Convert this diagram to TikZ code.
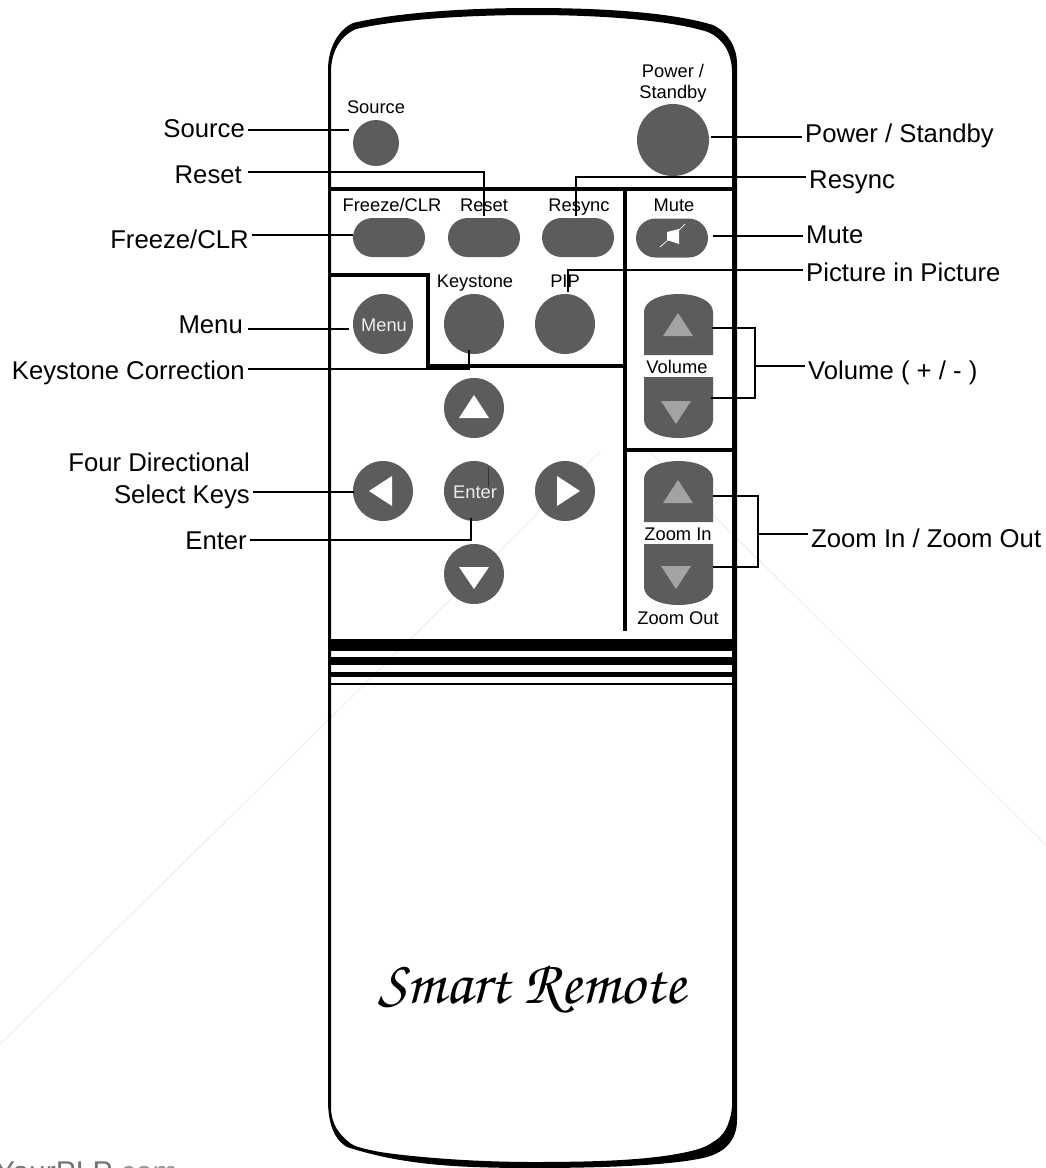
\documentclass[tikz,border=0pt]{standalone}
\usepackage{fontspec}
\setmainfont{Liberation Sans}
\usetikzlibrary{shapes.misc}
\definecolor{keygray}{HTML}{5C5C5C}
\definecolor{trigray}{HTML}{A3A3A3}
\definecolor{markgray}{HTML}{F2F2F2}
\tikzset{
	btn/.style={circle,fill=keygray,inner sep=0pt},
	btnpill/.style={rounded rectangle,fill=keygray,inner sep=0pt,minimum width=72pt,minimum height=39pt},
	wire/.style={line width=2pt,black},
	panel/.style={line width=3.2pt,black},
	lblleft/.style={anchor=base east,inner xsep=3pt,inner ysep=0pt,font=\fontsize{25.7}{30}\selectfont},
	lblright/.style={anchor=base west,inner xsep=3pt,inner ysep=0pt,font=\fontsize{25.7}{30}\selectfont},
	lblsmall/.style={anchor=base,inner sep=0pt,font=\fontsize{18.3}{22}\selectfont},
	lblwhite/.style={lblsmall,text=white!93!black}
}
\begin{document}
\begin{tikzpicture}[x=1pt,y=-1pt]
	\clip (0,0) rectangle (1045,1168);
	\fill[white] (0,0) rectangle (1045,1168);

	\draw[markgray,line width=1.5pt] (600,452) -- (0,1044);
	\draw[markgray,line width=1.5pt] (650,452) -- (1045,844);
	\node[anchor=base west,inner sep=0pt,font=\fontsize{30}{34}\selectfont,text=black!55] (lblSite) at (-5,1182) {YourPLP\textcolor{black!40}{.com}};

	\fill[black,even odd rule] (328,70) .. controls (328,48) and (338,30) .. (353,23) .. controls (400,12) and (470,8) .. (533,8) .. controls (600,8) and (670,12) .. (713,25) .. controls (728,32) and (737,48) .. (737,63) -- (737,1120) .. controls (737,1140) and (725,1152) .. (707,1157) .. controls (680,1164) and (620,1168) .. (533,1168) .. controls (450,1168) and (400,1164) .. (347,1147) .. controls (335,1140) and (328,1125) .. (328,1100) -- cycle
		(331,72) .. controls (331,52) and (340,36) .. (356,29) .. controls (400,19) and (470,15) .. (533,15) .. controls (600,15) and (670,20) .. (708,32) .. controls (722,38) and (732,52) .. (732,72) -- (732,1107) .. controls (730,1125) and (724,1136) .. (713,1142) .. controls (705,1148) and (695,1150) .. (687,1152) .. controls (650,1160) and (600,1162) .. (533,1162) .. controls (480,1162) and (420,1158) .. (380,1152) .. controls (365,1149) and (355,1147) .. (350,1143) .. controls (340,1135) and (331,1125) .. (331,1107) -- cycle;

	\draw[panel] (331,189) -- (732,189);
	\draw[panel] (625,189) -- (625,631);
	\draw[panel] (331,275) -- (428,275) -- (428,366) -- (625,366);
	\draw[panel] (625,450) -- (732,450);

	\fill[black] (331,639) rectangle (732,651);
	\fill[black] (331,657) rectangle (732,665);
	\fill[black] (331,672) rectangle (732,677);
	\draw[black,line width=1.2pt] (331,684) -- (732,684);

	\node[btn,minimum size=46pt] (btnSource) at (376,143) {};
	\node[btn,minimum size=72pt] (btnPower) at (673,140) {};
	\node[btnpill] (btnFreeze) at (389,237.5) {};
	\node[btnpill] (btnReset) at (484,237.5) {};
	\node[btnpill] (btnResync) at (578,237.5) {};
	\node[btnpill] (btnMute) at (672,238) {};
	\node[btn,minimum size=60pt] (btnMenu) at (383,324) {};
	\node[btn,minimum size=60pt] (btnKeystone) at (474,324) {};
	\node[btn,minimum size=60pt] (btnPip) at (565,324) {};
	\node[btn,minimum size=60pt] (btnUp) at (474,408) {};
	\node[btn,minimum size=60pt] (btnLeft) at (383,491) {};
	\node[btn,minimum size=60pt] (btnEnter) at (474,491) {};
	\node[btn,minimum size=60pt] (btnRight) at (565,491) {};
	\node[btn,minimum size=60pt] (btnDown) at (474,574) {};

	\fill[keygray] (644,355) -- (644,312) .. controls (644,301) and (660,294) .. (678.5,294) .. controls (697,294) and (713,301) .. (713,312) -- (713,355) -- cycle;
	\fill[keygray] (644,377) -- (644,420) .. controls (644,431) and (660,438) .. (678.5,438) .. controls (697,438) and (713,431) .. (713,420) -- (713,377) -- cycle;
	\fill[keygray] (644,522) -- (644,479) .. controls (644,468) and (660,461) .. (678.5,461) .. controls (697,461) and (713,468) .. (713,479) -- (713,522) -- cycle;
	\fill[keygray] (644,544) -- (644,587) .. controls (644,598) and (660,605) .. (678.5,605) .. controls (697,605) and (713,598) .. (713,587) -- (713,544) -- cycle;

	\fill[trigray] (663,336) -- (693,336) -- (678,313) -- cycle;
	\fill[trigray] (661,401) -- (691,401) -- (676,424) -- cycle;
	\fill[trigray] (663,503) -- (693,503) -- (678,480) -- cycle;
	\fill[trigray] (661,566) -- (691,566) -- (676,589) -- cycle;

	\fill[white] (459,418) -- (489,418) -- (474,395) -- cycle;
	\fill[white] (392,476) -- (392,506) -- (369,491) -- cycle;
	\fill[white] (557,476) -- (557,506) -- (580,491) -- cycle;
	\fill[white] (459,567) -- (489,567) -- (474,589) -- cycle;

	\fill[white] (667,232) -- (679,229) -- (679,244) -- (667,240) -- cycle;
	\draw[white,line width=0.7pt] (685,224) -- (679,230);
	\draw[white,line width=0.7pt] (660,247) -- (668,240);

	\node[lblsmall] (capSource) at (376,113) {Source};
	\node[lblsmall] (capPowerA) at (673,77) {Power /};
	\node[lblsmall] (capPowerB) at (673,98) {Standby};
	\node[lblsmall] (capFreeze) at (392,211) {Freeze/CLR};
	\node[lblsmall] (capReset) at (484,211) {Reset};
	\node[lblsmall] (capResync) at (579,211) {Resync};
	\node[lblsmall] (capMute) at (674,211) {Mute};
	\node[lblsmall] (capKeystone) at (475,287) {Keystone};
	\node[lblsmall] (capPip) at (565,287) {PIP};
	\node[lblsmall] (capVolume) at (677,373) {Volume};
	\node[lblsmall] (capZoomIn) at (678,540) {Zoom In};
	\node[lblsmall] (capZoomOut) at (678,624) {Zoom Out};
	\node[lblwhite] (capMenu) at (384,331) {Menu};
	\node[lblwhite] (capEnter) at (475,498) {Enter};
	\draw[black!80,line width=0.7pt] (488,467) -- (488,487);

	\node[lblleft] (lblSource) at (248,137) {Source};
	\node[lblleft] (lblReset) at (245,183) {Reset};
	\node[lblleft] (lblFreeze) at (252,248) {Freeze/CLR};
	\node[lblleft] (lblMenu) at (246,333) {Menu};
	\node[lblleft] (lblKeystone) at (248,379) {Keystone Correction};
	\node[lblleft] (lblFour) at (253,471) {Four Directional};
	\node[lblleft] (lblSelect) at (253,503) {Select Keys};
	\node[lblleft] (lblEnter) at (250,549) {Enter};

	\node[lblright] (lblPower) at (802,142) {Power / Standby};
	\node[lblright] (lblResync) at (806,188) {Resync};
	\node[lblright] (lblMute) at (803,243) {Mute};
	\node[lblright] (lblPip) at (803,281) {Picture in Picture};
	\node[lblright] (lblVolume) at (805,379) {Volume ( + / - )};
	\node[lblright] (lblZoom) at (808,547) {Zoom In / Zoom Out};

	\coordinate (tipSource) at (349,130);
	\coordinate (tipReset) at (484,216);
	\coordinate (tipFreeze) at (353,235);
	\coordinate (tipMenu) at (349,329);
	\coordinate (tipKeystone) at (469,350);
	\coordinate (tipSelect) at (354,492);
	\coordinate (tipEnter) at (471,518);
	\coordinate (tipPower) at (711,137);
	\coordinate (tipResync) at (576,216);
	\coordinate (tipMute) at (713,236);
	\coordinate (tipPip) at (568,292);
	\coordinate (tipVolUp) at (712,328);
	\coordinate (tipVolDown) at (711,398);
	\coordinate (tipZoomUp) at (713,496);
	\coordinate (tipZoomDown) at (713,567);
	\coordinate (forkVolume) at (755,366);
	\coordinate (forkZoom) at (758,534);

	\draw[wire] (lblSource.east |- tipSource) -- (tipSource);
	\draw[wire] ([xshift=3pt]lblReset.east |- 0,172) -- (484,172) -- (tipReset);
	\draw[wire] (lblFreeze.east |- tipFreeze) -- (tipFreeze);
	\draw[wire] ([xshift=2pt]lblMenu.east |- tipMenu) -- (tipMenu);
	\draw[wire] (lblKeystone.east |- 0,369) -- (469,369) -- (tipKeystone);
	\draw[wire] (lblSelect.east |- tipSelect) -- (tipSelect);
	\draw[wire] (lblEnter.east |- 0,540) -- (471,540) -- (tipEnter);
	\draw[wire] (tipPower) -- (lblPower.west |- tipPower);
	\draw[wire] (tipResync) -- (576,177) -- (lblResync.west |- 0,177);
	\draw[wire] (tipMute) -- (lblMute.west |- tipMute);
	\draw[wire] (tipPip) -- (568,270) -- (lblPip.west |- 0,270);
	\draw[wire] (tipVolUp) -- (forkVolume |- tipVolUp) -- (forkVolume |- tipVolDown) -- (tipVolDown);
	\draw[wire] (forkVolume) -- (lblVolume.west |- forkVolume);
	\draw[wire] (tipZoomUp) -- (forkZoom |- tipZoomUp) -- (forkZoom |- tipZoomDown) -- (tipZoomDown);
	\draw[wire] (forkZoom) -- (lblZoom.west |- forkZoom);

	\node[anchor=base,inner sep=0pt,font=\fontencoding{T1}\fontfamily{pzc}\fontsize{62}{70}\selectfont\itshape] (lblBrand) at (532,1003) {Smart Remote};
\end{tikzpicture}
\end{document}
